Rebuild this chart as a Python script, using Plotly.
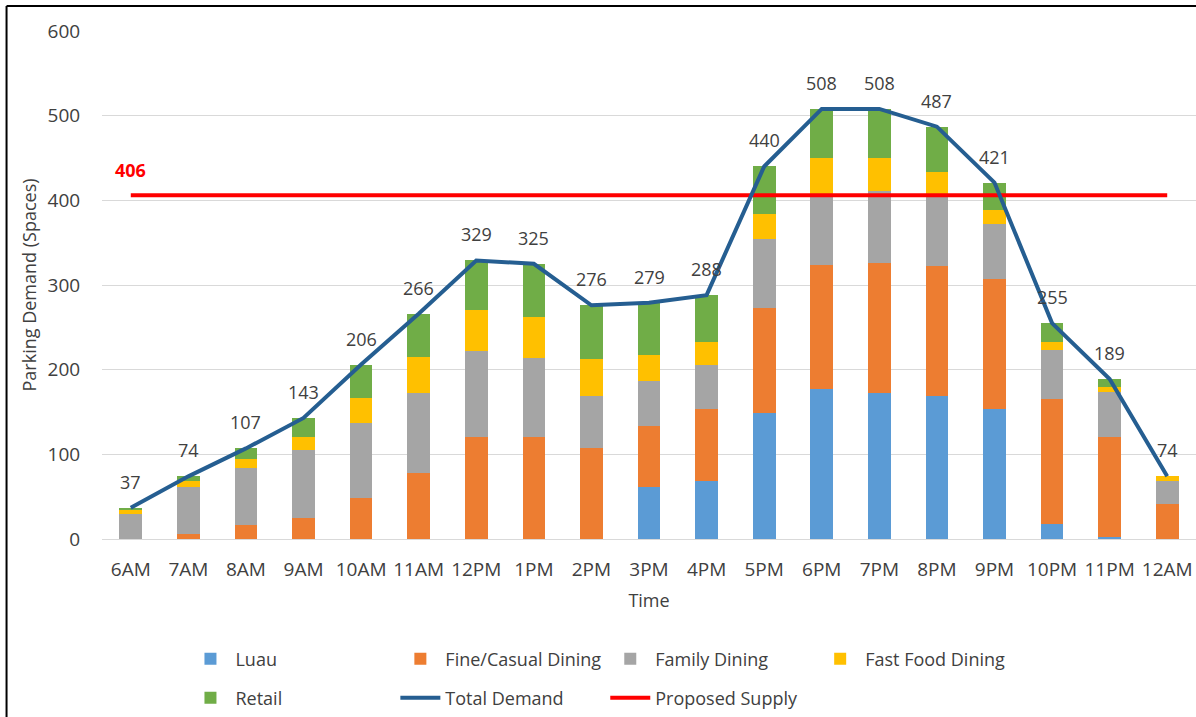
import plotly.graph_objects as go

# Hourly parking demand by land use
times = ["6AM", "7AM", "8AM", "9AM", "10AM", "11AM", "12PM", "1PM", "2PM", "3PM",
         "4PM", "5PM", "6PM", "7PM", "8PM", "9PM", "10PM", "11PM", "12AM"]
luau = [0, 0, 0, 0, 0, 0, 0, 0, 0, 62, 68, 149, 177, 173, 169, 154, 18, 2, 0]
fine_casual = [0, 6, 17, 25, 48, 78, 120, 120, 108, 72, 86, 124, 147, 153, 154, 153, 147, 118, 41]
family = [30, 56, 67, 80, 89, 94, 102, 94, 61, 53, 52, 81, 84, 85, 84, 65, 58, 54, 28]
fast_food = [4, 7, 10, 15, 30, 43, 48, 48, 44, 30, 27, 30, 42, 39, 26, 16, 10, 6, 5]
retail = [3, 5, 13, 23, 39, 51, 59, 63, 63, 62, 55, 56, 58, 58, 54, 33, 22, 9, 0]
total_demand = [37, 74, 107, 143, 206, 266, 329, 325, 276, 279, 288, 440, 508, 508, 487, 421, 255, 189, 74]
proposed_supply = 406

W, H = 1196, 717
M_L, M_R, M_T, M_B = 101.5, 0, 31, 178
PW = W - M_L - M_R
PH = H - M_T - M_B


def px_x(x):
    return (x - M_L) / PW


def px_y(y):
    return (H - M_B - y) / PH


FONT = "Open Sans"
FS = 18
TICK_FS = 19
TXT = "#404040"

# Legend slots (left edge of entry, row centre) in pixels, one legend per entry
slots = {
    "Luau": (185, 659), "Fine/Casual Dining": (395, 659),
    "Family Dining": (605, 659), "Fast Food Dining": (815, 659),
    "Retail": (185, 698), "Total Demand": (395, 698), "Proposed Supply": (605, 698),
}
legend_ids = {name: ("legend" if i == 0 else "legend%d" % (i + 1)) for i, name in enumerate(slots)}

fig = go.Figure()

bar_series = [
    ("Luau", luau, "#5b9bd5"),
    ("Fine/Casual Dining", fine_casual, "#ed7d31"),
    ("Family Dining", family, "#a5a5a5"),
    ("Fast Food Dining", fast_food, "#ffc000"),
    ("Retail", retail, "#70ad47"),
]
for name, vals, color in bar_series:
    fig.add_trace(go.Bar(
        x=times, y=vals, name=name, marker=dict(color=color, line=dict(width=0)),
        legend=legend_ids[name],
    ))

fig.add_trace(go.Scatter(
    x=times, y=[proposed_supply] * len(times), name="Proposed Supply", mode="lines",
    line=dict(color="#ff0000", width=4), legend=legend_ids["Proposed Supply"],
))
fig.add_trace(go.Scatter(
    x=times, y=total_demand, name="Total Demand", mode="lines",
    line=dict(color="#255e91", width=4), legend=legend_ids["Total Demand"],
))

# Total labels above each point of the demand line
for t, v in zip(times, total_demand):
    fig.add_annotation(x=t, y=v, text=str(v), showarrow=False, yshift=26,
                       font=dict(family=FONT, size=FS, color=TXT))

fig.add_annotation(x=times[0], y=proposed_supply, text="<b>%d</b>" % proposed_supply,
                   showarrow=False, yshift=25, font=dict(family=FONT, size=FS, color="#ff0000"))

# Frame lines on the top and left edges
fig.add_shape(type="line", xref="paper", yref="paper", x0=px_x(6), x1=px_x(W), y0=px_y(6), y1=px_y(6),
              line=dict(color="black", width=2))
fig.add_shape(type="line", xref="paper", yref="paper", x0=px_x(6), x1=px_x(6), y0=px_y(6), y1=px_y(H),
              line=dict(color="black", width=2))

legends = {}
for name, (lx, ly) in slots.items():
    legends[legend_ids[name]] = dict(
        x=px_x(lx), y=px_y(ly), xanchor="left", yanchor="middle",
        orientation="h", itemwidth=40,
        font=dict(family=FONT, size=FS, color=TXT), bgcolor="rgba(0,0,0,0)",
    )

fig.update_layout(
    width=W, height=H,
    margin=dict(l=M_L, r=M_R, t=M_T, b=M_B, pad=0, autoexpand=False),
    paper_bgcolor="white", plot_bgcolor="white",
    barmode="stack", bargap=0.606,
    font=dict(family=FONT, size=FS, color=TXT),
    showlegend=True,
    xaxis=dict(
        title=dict(text="Time", font=dict(family=FONT, size=FS, color=TXT), standoff=13),
        showgrid=False, showline=False, zeroline=False,
        ticks="outside", ticklen=13, tickcolor="rgba(0,0,0,0)",
        tickfont=dict(family=FONT, size=TICK_FS, color=TXT),
    ),
    yaxis=dict(
        title=dict(text="Parking Demand (Spaces)", font=dict(family=FONT, size=FS, color=TXT), standoff=6),
        range=[0, 600], dtick=100, showgrid=True, gridcolor="#d9d9d9", gridwidth=1,
        zeroline=True, zerolinecolor="#d9d9d9", zerolinewidth=1, showline=False,
        ticks="outside", ticklen=17, tickcolor="rgba(0,0,0,0)",
        tickfont=dict(family=FONT, size=TICK_FS, color=TXT),
    ),
    **legends,
)

fig.write_html("out.html")
